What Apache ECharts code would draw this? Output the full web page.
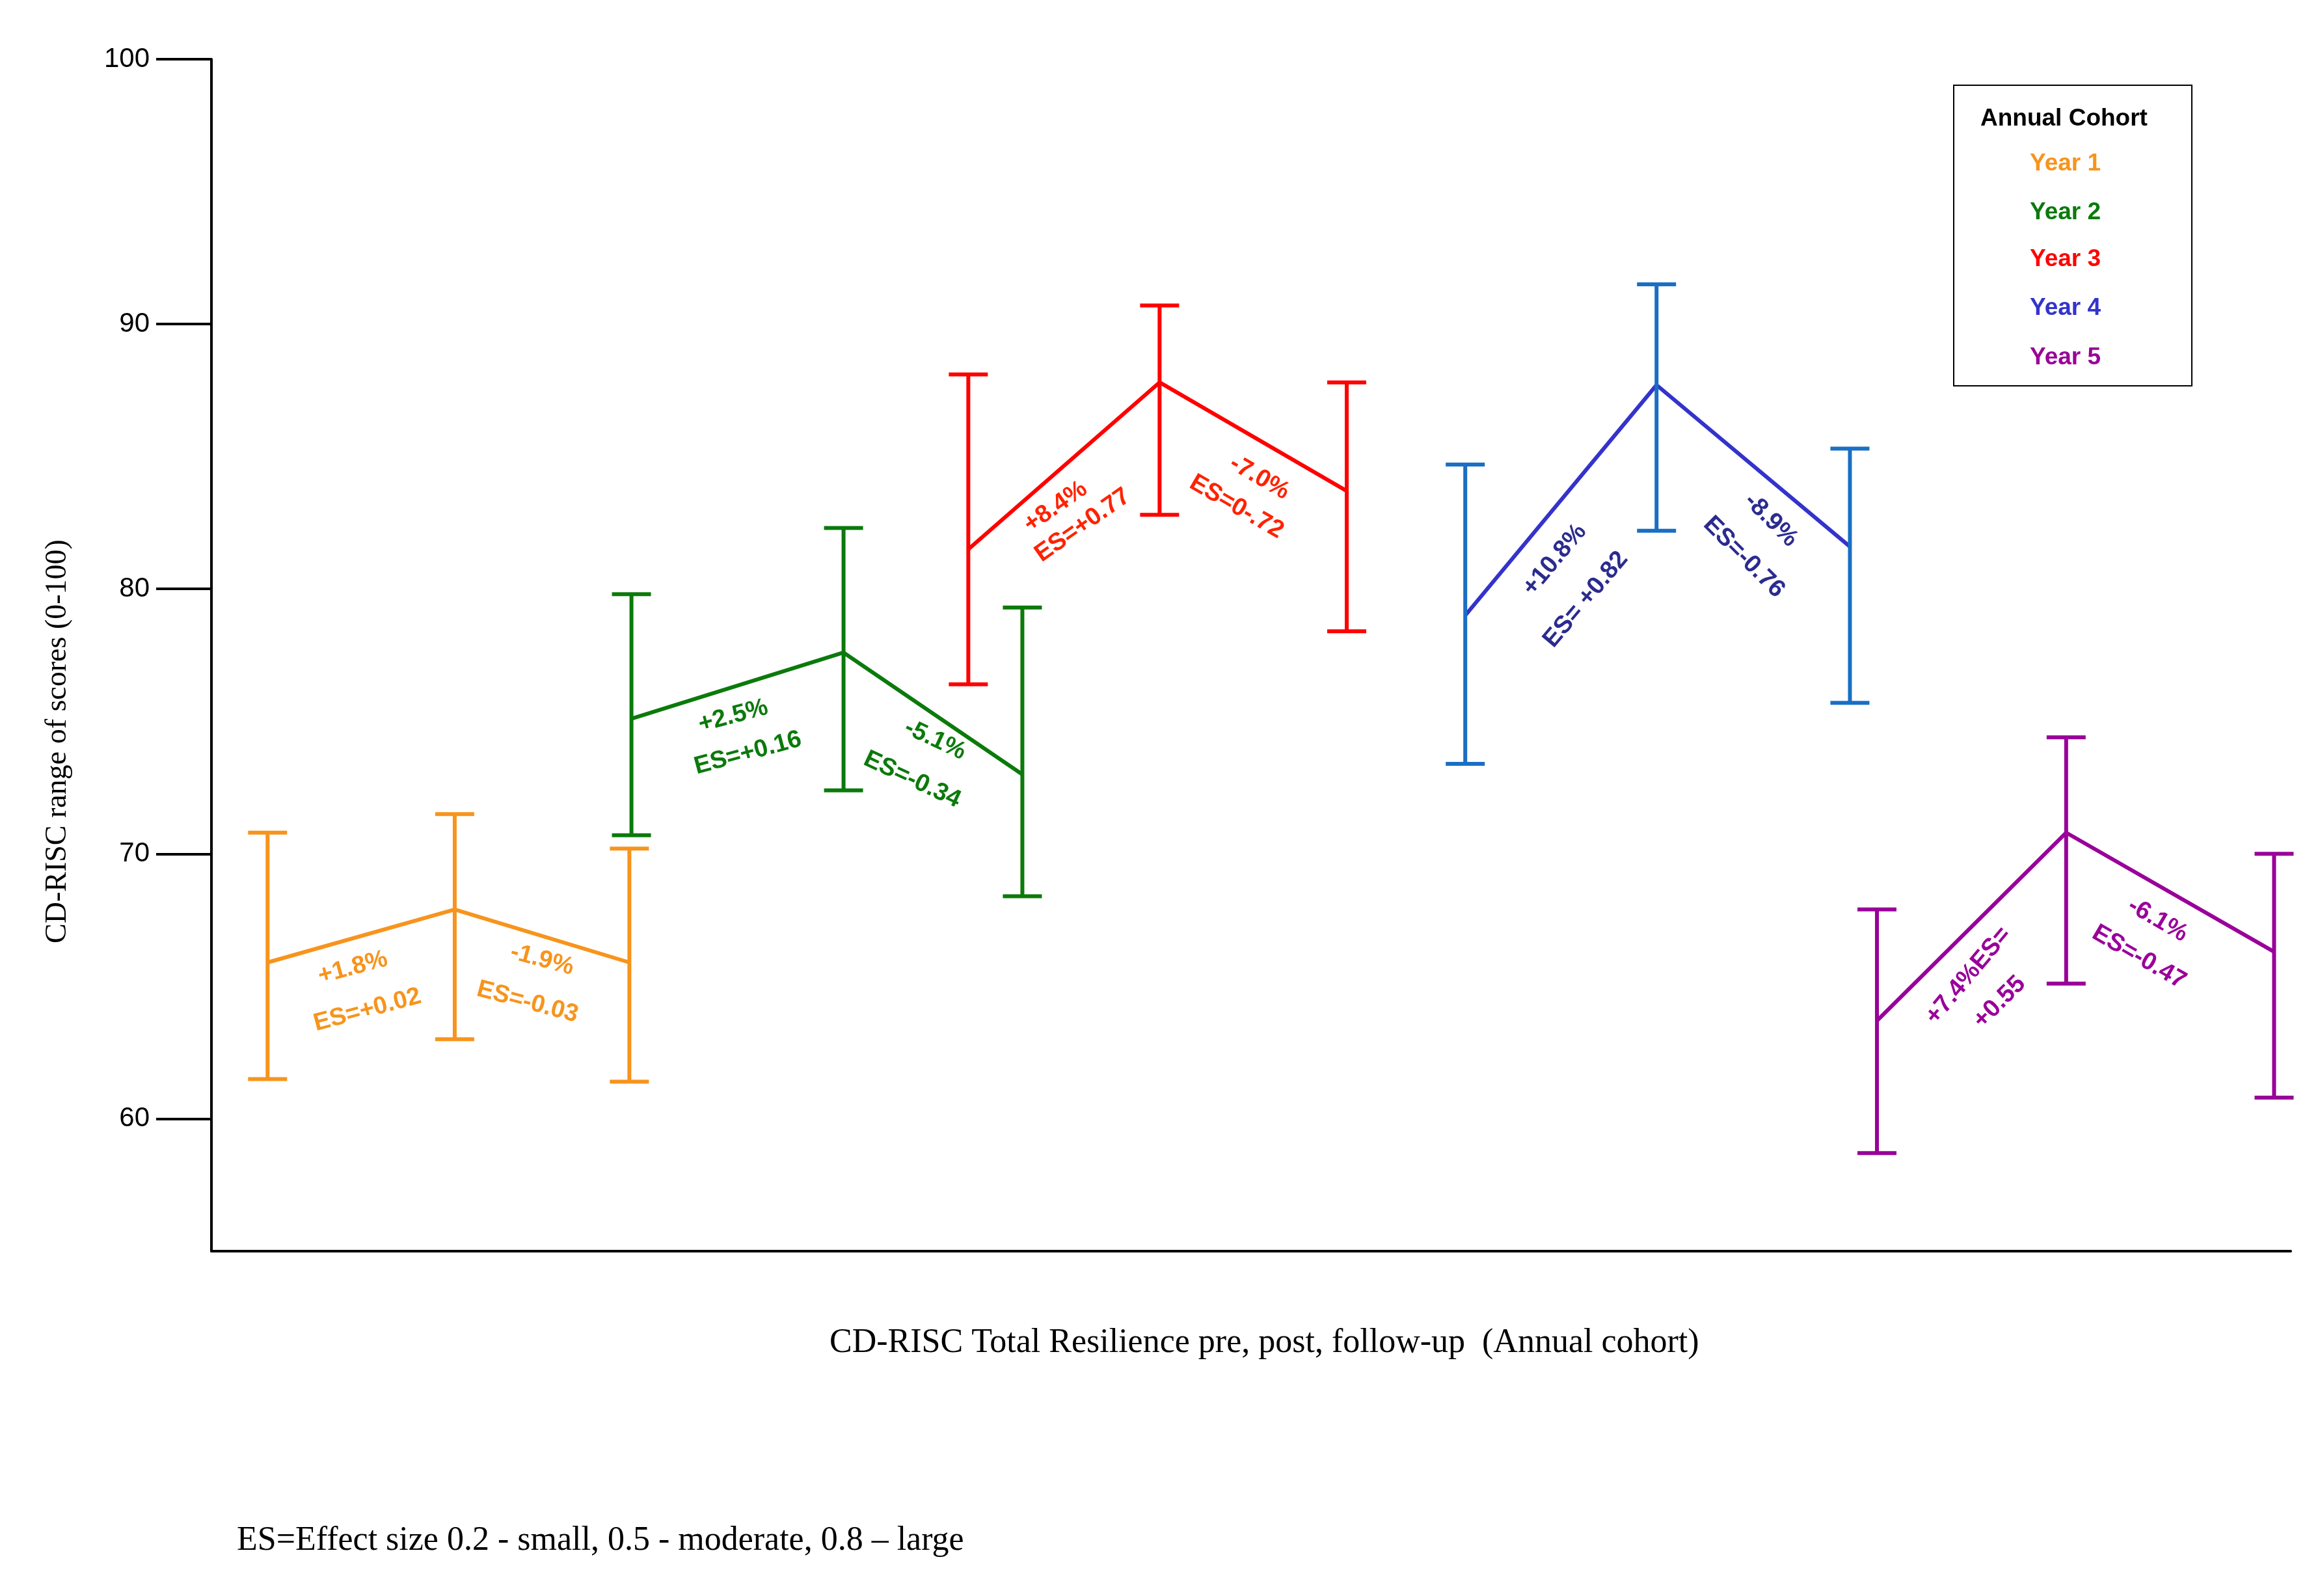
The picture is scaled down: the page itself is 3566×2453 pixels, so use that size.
<!DOCTYPE html>
<html><head><meta charset="utf-8">
<script src="https://cdn.jsdelivr.net/npm/echarts@6/dist/echarts.min.js"></script>
<style>html,body{margin:0;padding:0;background:#fff}#c{width:3566px;height:2453px}</style>
</head><body><div id="c"></div>
<script>
const cohorts = ['Year 1','Year 2','Year 3','Year 4','Year 5'];
const colors = ['#F7941D','#0B7A0B','#FF0000','#3333CC','#990099'];
const barColors = ['#F7941D','#0B7A0B','#FF0000','#1A6FC4','#990099'];
const textColors = ['#F7941D','#0B7A0B','#FF2200','#2B2B8F','#990099'];
const xPos = [[2.7,11.7,20.1],[20.2,30.4,39.0],[36.4,45.6,54.6],[60.3,69.5,78.8],[80.1,89.2,99.2]];
const means = [[65.9,67.9,65.9],[75.1,77.6,73.0],[81.5,87.8,83.7],[79.0,87.7,81.6],[63.7,70.8,66.3]];
const upper = [[70.8,71.5,70.2],[79.8,82.3,79.3],[88.1,90.7,87.8],[84.7,91.5,85.3],[67.9,74.4,70.0]];
const lower = [[61.5,63.0,61.4],[70.7,72.4,68.4],[76.4,82.8,78.4],[73.4,82.2,75.7],[58.7,65.1,60.8]];
// annotations: [cohort, x, y, text, rotation(deg)]
const notes = [
 [0,6.8,65.7,'+1.8%',15],[0,7.5,64.1,'ES=+0.02',15],[0,15.9,66.0,'-1.9%',-15],[0,15.2,64.4,'ES=-0.03',-15],
 [1,25.1,75.2,'+2.5%',15],[1,25.8,73.8,'ES=+0.16',15],[1,34.8,74.3,'-5.1%',-25],[1,33.7,72.8,'ES=-0.34',-25],
 [2,40.6,83.1,'+8.4%',35],[2,41.9,82.4,'ES=+0.77',35],[2,50.4,84.2,'-7.0%',-30],[2,49.3,83.1,'ES=0-.72',-30],
 [3,64.6,81.1,'+10.8%',50],[3,66.1,79.6,'ES= +0.82',50],[3,75.0,82.6,'-8.9%',-45],[3,73.7,81.2,'ES=-0.76',-45],
 [4,84.5,65.4,'+7.4%ES=',50],[4,86.0,64.4,'+0.55',45],[4,93.6,67.5,'-6.1%',-30],[4,92.7,66.1,'ES=-0.47',-30]
];
const series = [];
cohorts.forEach((name,i)=>{
  series.push({type:'line',name,data:xPos[i].map((x,j)=>[x,means[i][j]]),symbol:'none',
    lineStyle:{color:colors[i],width:6},z:3});
  series.push({type:'custom',data:xPos[i].map((x,j)=>[x,lower[i][j],upper[i][j]]),z:4,
    renderItem:(p,api)=>{
      const lo=api.coord([api.value(0),api.value(1)]), hi=api.coord([api.value(0),api.value(2)]);
      const w=30, st={stroke:barColors[i],lineWidth:6};
      return {type:'group',children:[
        {type:'line',shape:{x1:lo[0],y1:lo[1],x2:hi[0],y2:hi[1]},style:st},
        {type:'line',shape:{x1:lo[0]-w,y1:lo[1],x2:lo[0]+w,y2:lo[1]},style:st},
        {type:'line',shape:{x1:hi[0]-w,y1:hi[1],x2:hi[0]+w,y2:hi[1]},style:st}]};
    }});
});
series.push({type:'custom',data:notes.map(n=>[n[1],n[2],n[0],n[4],n[3]]),z:5,
  renderItem:(p,api)=>{
    const n=notes[p.dataIndex]; const c=api.coord([n[1],n[2]]);
    return {type:'text',x:c[0],y:c[1],rotation:n[4]*Math.PI/180,
      style:{text:n[3],fill:textColors[n[0]],font:'bold 38px Liberation Sans, Arial',align:'center',verticalAlign:'middle'}};
  }});
const legendChildren=[{type:'rect',left:3002,top:130,shape:{width:366,height:462},style:{fill:'#fff',stroke:'#000',lineWidth:2}},
 {type:'text',left:3044,top:164,style:{text:'Annual Cohort',fill:'#000',font:'bold 37px Liberation Sans, Arial'}}];
cohorts.forEach((c,i)=>legendChildren.push({type:'text',left:3120,top:[233,308,380,455,531][i],
  style:{text:c,fill:colors[i],font:'bold 37px Liberation Sans, Arial'}}));
const chart=echarts.init(document.getElementById('c'));
chart.setOption({
  animation:false,
  grid:{left:325,right:45,top:91,bottom:530},
  xAxis:{type:'value',min:0,max:100,axisLine:{lineStyle:{color:'#000',width:4}},axisTick:{show:false},axisLabel:{show:false},splitLine:{show:false}},
  yAxis:{type:'value',min:55,max:100,interval:5,
    axisLine:{show:true,lineStyle:{color:'#000',width:4}},
    axisTick:{show:true,length:85,customValues:[60,70,80,90,100],lineStyle:{width:4,color:'#000'}},
    axisLabel:{customValues:[60,70,80,90,100],margin:95,fontSize:42,color:'#000',fontFamily:'Liberation Sans, Arial'},
    splitLine:{show:false}},
  series,
  graphic:[
    {type:'text',rotation:Math.PI/2,x:66,y:1450,style:{text:'CD-RISC range of scores (0-100)',font:'46px Liberation Serif, serif',fill:'#000'}},
    {type:'text',left:1275,top:2038,style:{text:'CD-RISC Total Resilience pre, post, follow-up  (Annual cohort)',font:'52px Liberation Serif, serif',fill:'#000'}},
    {type:'text',left:364,top:2342,style:{text:'ES=Effect size 0.2 - small, 0.5 - moderate, 0.8 – large',font:'52px Liberation Serif, serif',fill:'#000'}},
    ...legendChildren
  ]
});
</script></body></html>
